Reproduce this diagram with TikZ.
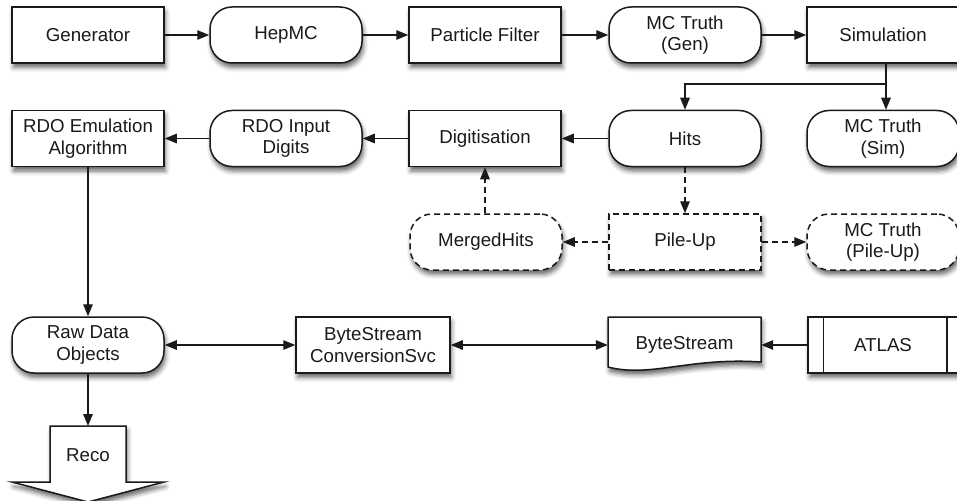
\documentclass[tikz,border=0pt]{standalone}
\usepackage{fontspec}
\setmainfont{Liberation Sans}
\usetikzlibrary{arrows.meta,shadows.blur}

\definecolor{ink}{HTML}{1A1A1A}

\tikzset{
  softshadow/.style={blur shadow={shadow xshift=1.5pt, shadow yshift=-4.5pt,
      shadow blur radius=4.5pt, shadow opacity=60}},
  base/.style={draw=ink, line width=1.5pt, fill=white,
    minimum width=152pt, minimum height=56pt, inner sep=2pt,
    align=center, text=ink, font=\fontsize{18.7}{21.5}\selectfont, softshadow},
  procbox/.style={base, rectangle},
  databox/.style={base, rounded corners=22pt},
  dashline/.style={dash pattern=on 6pt off 4pt},
  flow/.style={draw=ink, line width=1.4pt, -{Triangle[length=12pt,width=9.5pt]}},
  flowboth/.style={flow, {Triangle[length=12pt,width=9.5pt]}-{Triangle[length=12pt,width=9.5pt]}},
  label/.style={text=ink, align=center, font=\fontsize{18.7}{21.5}\selectfont,
    minimum width=152pt, minimum height=56pt, inner sep=0pt},
}

\begin{document}
\begin{tikzpicture}[x=1pt, y=-1pt]
\useasboundingbox (0,0) rectangle (957,500);

% --- generation / simulation chain ---
\node[procbox] (gen)      at (88,35)    {Generator};
\node[databox] (hepmc)    at (286,35)   {HepMC};
\node[procbox] (filter)   at (485,35)   {Particle Filter};
\node[databox] (gentruth) at (685,35)   {MC Truth\\(Gen)};
\node[procbox] (sim)      at (883,35)   {Simulation};

% --- digitisation chain ---
\node[procbox] (rdoemu)   at (88,138.5)  {RDO Emulation\\Algorithm};
\node[databox] (rdoin)    at (286,138.5) {RDO Input\\Digits};
\node[procbox] (digi)     at (485,138.5) {Digitisation};
\node[databox] (hits)     at (685,138.5) {Hits};
\node[databox] (simtruth) at (883,138.5) {MC Truth\\(Sim)};

% --- pile-up ---
\node[databox, dashline] (merged) at (486,242) {MergedHits};
\node[procbox, dashline] (pileup) at (685,242) {Pile-Up};
\node[databox, dashline] (putruth) at (883,242) {MC Truth\\(Pile-Up)};

% --- raw data / bytestream ---
\node[databox] (raw)  at (88,345)  {Raw Data\\Objects};
\node[procbox, minimum width=154pt] (bsconv) at (373,345) {ByteStream\\ConversionSvc};

% ByteStream as a document shape
\path[fill=white, softshadow]
  (608,317) -- (761,317) -- (761,362)
  .. controls (690,357) and (650,378) .. (608,367) -- cycle;
\draw[ink, line width=1.5pt, line join=round]
  (608,317) -- (761,317) -- (761,362)
  .. controls (690,357) and (650,378) .. (608,367) -- cycle;
\node[label, minimum width=153pt] (bs) at (684.5,345) {\raisebox{5pt}{ByteStream}};

% ATLAS as a predefined-process box
\node[procbox, minimum width=150pt] (atlas) at (883,345) {ATLAS};
\draw[ink, line width=1.5pt] ([xshift=16pt]atlas.north west) -- ([xshift=16pt]atlas.south west);
\draw[ink, line width=1.5pt] ([xshift=-12pt]atlas.north east) -- ([xshift=-12pt]atlas.south east);

% Reco as a downward block arrow
\path[fill=white, softshadow]
  (50,426) -- (126,426) -- (126,482) -- (164,482) -- (88,502) -- (12,482) -- (50,482) -- cycle;
\draw[ink, line width=1.5pt, line join=miter]
  (50,426) -- (126,426) -- (126,482) -- (164,482) -- (88,502) -- (12,482) -- (50,482) -- cycle;
\node[label, minimum width=76pt, minimum height=40pt] (reco) at (88,455) {Reco};
\coordinate (recotop) at (88,426);

% --- connectors ---
\draw[flow] (gen) -- (hepmc);
\draw[flow] (hepmc) -- (filter);
\draw[flow] (filter) -- (gentruth);
\draw[flow] (gentruth) -- (sim);

\coordinate (split) at (886,84);
\draw[flow] (sim.south -| split) -- (split) -| (hits.north);
\draw[flow] (split) -- (simtruth.north -| split);

\draw[flow] (hits) -- (digi);
\draw[flow] (digi) -- (rdoin);
\draw[flow] (rdoin) -- (rdoemu);
\draw[flow] (rdoemu) -- (raw);

\draw[flow, dashline] (hits) -- (pileup);
\draw[flow, dashline] (pileup) -- (merged);
\draw[flow, dashline] (pileup) -- (putruth);
\draw[flow, dashline] (merged.north -| digi) -- (digi.south);

\draw[flowboth] (raw) -- (bsconv);
\draw[flowboth] (bsconv) -- (bs.west);
\draw[flow] (atlas) -- (bs.east);
\draw[flow] (raw) -- (recotop);
\end{tikzpicture}
\end{document}
